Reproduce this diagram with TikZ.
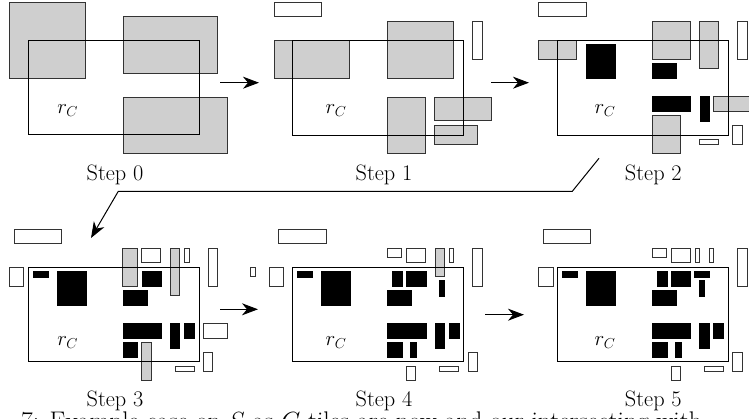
\documentclass[tikz,border=0pt]{standalone}
\usetikzlibrary{arrows.meta}
\begin{document}
\begin{tikzpicture}[x=1pt,y=-1pt,
  gr/.style={fill=gray!38, draw=black!80, line width=0.9pt},
  wt/.style={fill=white, draw=black!80, line width=0.9pt},
  bk/.style={fill=black, draw=black, line width=0.4pt},
  region/.style={draw=black, line width=0.9pt},
  lbl/.style={font=\fontsize{22.3}{26}\selectfont, inner sep=0pt, anchor=base},
  caplbl/.style={font=\fontsize{25.5}{30}\selectfont, inner sep=0pt, anchor=base west},
  flow/.style={line width=1pt, -{Stealth[length=16pt, width=12pt, inset=5pt]}}]
\useasboundingbox (0,0) rectangle (749,419);
\clip (0,0) rectangle (749,419);
% ---------------- Step 0
\draw[gr] (9.3,2.7) rectangle (85.3,78);
\draw[gr] (123,16.7) rectangle (217.7,73);
\draw[gr] (123,97) rectangle (227,153.7);
\draw[region] (28.3,40) rectangle (199,134.7);
\node[lbl] (rc0) at (67.7,113.3) {$r_C$};
\node[lbl] (s0) at (115,181) {Step 0};
% ---------------- Step 1
\draw[wt] (274,2.7) rectangle (321.3,16.3);
\draw[gr] (274,40.3) rectangle (349.7,78);
\draw[gr] (387.3,21.7) rectangle (453.7,78);
\draw[wt] (472.7,21.7) rectangle (482.3,59.3);
\draw[gr] (387.3,97) rectangle (425.3,153.7);
\draw[gr] (434.7,97) rectangle (491.7,120.3);
\draw[gr] (434.7,125.3) rectangle (477.7,144);
\draw[region] (292.7,40.3) rectangle (463.7,135);
\node[lbl] (rc1) at (336,113.3) {$r_C$};
\node[lbl] (s1) at (384,181) {Step 1};
% ---------------- Step 2
\draw[wt] (538.7,2.7) rectangle (586.3,16.3);
\draw[gr] (538.7,40.3) rectangle (576.7,59.3);
\draw[bk] (585.7,44.3) rectangle (615,78.7);
\draw[gr] (652,21.7) rectangle (690.3,59.3);
\draw[gr] (699.7,21.7) rectangle (718.7,68.7);
\draw[wt] (737.3,21.7) rectangle (747,59.3);
\draw[bk] (652,63.7) rectangle (676,78.7);
\draw[bk] (652,96.7) rectangle (690.3,111.7);
\draw[bk] (699.7,96.7) rectangle (709.3,121);
\draw[gr] (713.7,96.7) rectangle (752,111.7);
\draw[gr] (652,115.7) rectangle (680.3,153.7);
\draw[wt] (699.7,139.3) rectangle (718.7,144);
\draw[wt] (732.3,125.3) rectangle (742.3,144);
\draw[region] (557.7,40.3) rectangle (728,135);
\node[lbl] (rc2) at (605,113.3) {$r_C$};
\node[lbl] (s2) at (653.3,181) {Step 2};
% ---------------- Step 3
\draw[wt] (14,229.3) rectangle (61.7,243.3);
\draw[wt] (9.3,267.3) rectangle (23.7,286);
\draw[bk] (32.7,271.3) rectangle (47.7,277);
\draw[bk] (56.7,271.3) rectangle (86,305.7);
\draw[wt] (141.7,248.3) rectangle (160.7,262.3);
\draw[wt] (184.3,248.3) rectangle (189,262.3);
\draw[wt] (208.3,248.3) rectangle (217.7,286);
\draw[bk] (141.7,271.3) rectangle (160.7,286);
\draw[bk] (122.7,290) rectangle (147,305.3);
\draw[bk] (122.7,323.7) rectangle (160.7,338.3);
\draw[bk] (122.7,342.3) rectangle (137,357);
\draw[bk] (170,323.7) rectangle (179.3,347.7);
\draw[bk] (184,323.7) rectangle (194,338.3);
\draw[wt] (203.3,323.7) rectangle (227,338.3);
\draw[wt] (203.3,352) rectangle (212.7,371.3);
\draw[wt] (175,366.3) rectangle (194,371.3);
\draw[gr] (122.7,248.3) rectangle (137,286);
\draw[gr] (170,248.3) rectangle (179.3,295.3);
\draw[gr] (141.7,342.7) rectangle (151.3,380.7);
\draw[region] (28.3,267) rectangle (199,361.7);
\node[lbl] (rc3) at (67.7,345) {$r_C$};
\node[lbl] (s3) at (115,406.2) {Step 3};
% ---------------- Step 4
\draw[wt] (278.7,229.3) rectangle (326.3,243.3);
\draw[wt] (250.5,267.3) rectangle (255,276.7);
\draw[wt] (269,267.3) rectangle (283.3,286);
\draw[bk] (297.3,271.3) rectangle (312.3,277);
\draw[bk] (321,271.3) rectangle (350,305.7);
\draw[wt] (387.7,248.3) rectangle (401.7,257.7);
\draw[wt] (406.3,248.3) rectangle (425.3,262.3);
\draw[gr] (435,248.3) rectangle (444.3,276.3);
\draw[wt] (449,248.3) rectangle (453.7,262.3);
\draw[wt] (472.7,248.3) rectangle (482.3,286);
\draw[bk] (392,271.3) rectangle (401.7,286);
\draw[bk] (406.3,271.3) rectangle (425.7,286);
\draw[bk] (439.3,280.7) rectangle (444.3,296);
\draw[bk] (387.3,290) rectangle (411.3,305.3);
\draw[bk] (387.3,323.7) rectangle (425.7,338.3);
\draw[bk] (387.3,342.3) rectangle (401.7,357);
\draw[bk] (410.3,342.3) rectangle (416,357);
\draw[bk] (435,323.7) rectangle (444.3,347.7);
\draw[bk] (449,323.7) rectangle (458.7,338.3);
\draw[wt] (439.3,366.3) rectangle (458.7,371.3);
\draw[wt] (468,352) rectangle (477.7,371.3);
\draw[wt] (406.3,366.3) rectangle (415.7,380.7);
\draw[region] (292.7,267) rectangle (463.7,361.7);
\node[lbl] (rc4) at (336,345) {$r_C$};
\node[lbl] (s4) at (384,406.2) {Step 4};
% ---------------- Step 5
\draw[wt] (543.3,229.3) rectangle (590.7,243.3);
\draw[wt] (538.7,267.3) rectangle (553,286);
\draw[bk] (562,271.3) rectangle (577,277);
\draw[bk] (585.7,271.3) rectangle (615,305.7);
\draw[wt] (652.3,248.3) rectangle (666.7,257.7);
\draw[wt] (671,248.3) rectangle (690.3,262.3);
\draw[wt] (695,248.3) rectangle (699.7,262.3);
\draw[wt] (709,248.3) rectangle (713.7,262.3);
\draw[wt] (737.3,248.3) rectangle (747,286);
\draw[bk] (656.7,271.3) rectangle (666.7,286);
\draw[bk] (671,271.3) rectangle (690.3,286);
\draw[bk] (694.3,271.3) rectangle (709.3,277);
\draw[bk] (699.3,280.7) rectangle (704.3,296);
\draw[bk] (651.7,290) rectangle (676,305.3);
\draw[bk] (651.7,323.7) rectangle (690.3,338.3);
\draw[bk] (651.7,342.3) rectangle (666.7,357);
\draw[bk] (675.3,342.3) rectangle (681,357);
\draw[bk] (699.3,323.7) rectangle (709.3,347.7);
\draw[bk] (713.3,323.7) rectangle (723.3,338.3);
\draw[wt] (704.3,366.3) rectangle (723.3,371.3);
\draw[wt] (732.3,352) rectangle (742.3,371.3);
\draw[wt] (671,366.3) rectangle (680.3,380.7);
\draw[region] (557.7,267) rectangle (728,361.7);
\node[lbl] (rc5) at (605,345) {$r_C$};
\node[lbl] (s5) at (653.3,406.2) {Step 5};
% ---------------- arrows
\coordinate (a0s) at (220,82.7);  \coordinate (a0e) at (259,82.7);
\coordinate (a1s) at (491,82.7);  \coordinate (a1e) at (529,82.7);
\coordinate (l0) at (599,158.3);  \coordinate (l1) at (572.3,191.3);
\coordinate (l2) at (118.3,191.3); \coordinate (l3) at (91,238);
\coordinate (a3s) at (220,309.3); \coordinate (a3e) at (258,309.3);
\coordinate (a4s) at (485,314.7); \coordinate (a4e) at (524,314.7);
\draw[flow] (a0s) -- (a0e);
\draw[flow] (a1s) -- (a1e);
\draw[flow] (l0) -- (l1) -- (l2) -- (l3);
\draw[flow] (a3s) -- (a3e);
\draw[flow] (a4s) -- (a4e);
% ---------------- caption line, cut by the lower edge as in the reference
\node[caplbl] (cap) at (21,429) {7: Example case on $S$ as $C$ tiles are now and our intersecting with};
\end{tikzpicture}
\end{document}
